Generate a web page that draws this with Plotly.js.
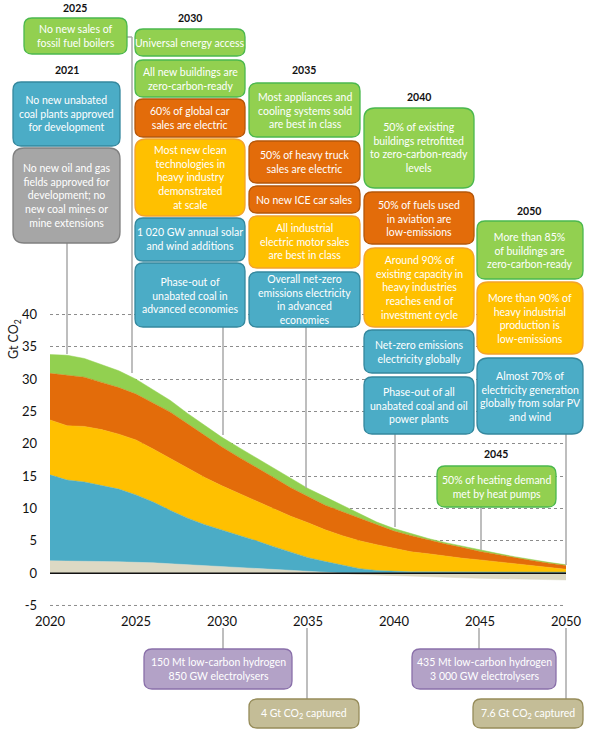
<!DOCTYPE html>
<html><head><meta charset="utf-8">
<script src="https://cdn.plot.ly/plotly-3.0.1.min.js"></script>
<style>html,body{margin:0;padding:0;background:#fff}#chart{width:589px;height:733px}</style>
</head><body><div id="chart"></div>
<script>
// ---- data (Gt CO2) ----
const years = [2020,2021,2022,2023,2024,2025,2026,2027,2028,2029,2030,2031,2032,2033,2034,2035,2036,2037,2038,2039,2040,2041,2042,2043,2044,2045,2046,2047,2048,2049,2050];
const other = [1.9,1.9,1.85,1.8,1.75,1.7,1.6,1.45,1.3,1.15,1.0,0.85,0.7,0.5,0.35,0.2,0.05,-0.1,-0.2,-0.3,-0.4,-0.5,-0.6,-0.67,-0.75,-0.8,-0.85,-0.9,-0.95,-1.0,-1.05];
const electricity = [13.3,12.5,12.25,11.8,11.25,10.4,9.4,8.25,7.2,6.35,5.7,5.05,4.3,3.6,2.85,2.2,1.75,1.2,0.7,0.4,0.25,0.2,0.2,0.2,0.2,0.2,0.2,0.2,0.2,0.2,0.15];
const industry = [8.5,8.4,8.6,8.6,8.5,8.5,8.2,8.0,7.7,7.3,6.8,6.4,6.1,5.8,5.6,5.4,4.9,4.6,4.3,4.0,3.55,3.1,2.8,2.4,2.1,1.85,1.55,1.25,1.0,0.7,0.45];
const transport = [7.2,7.8,7.6,7.3,7.2,7.1,7.1,7.2,6.9,6.5,6.0,5.6,5.3,4.9,4.4,4.0,3.8,3.7,3.5,3.0,2.7,2.5,2.1,1.9,1.65,1.3,1.15,0.95,0.75,0.65,0.6];
const buildings = [2.9,3.1,2.9,2.8,2.6,2.3,2.1,1.8,1.6,1.5,1.5,1.5,1.4,1.4,1.4,1.3,1.3,1.0,0.7,0.5,0.4,0.3,0.25,0.22,0.2,0.18,0.16,0.15,0.14,0.12,0.1];

const yTickVals = [-5,0,5,10,15,20,25,30,35,40];
const yTickText = ['-5','0','5','10','15','20','25','30','35','40'];
const xTickVals = [2020,2025,2030,2035,2040,2045,2050];
const xTickText = ['2020','2025','2030','2035','2040','2045','2050'];

// ---- colours ----
const C = {
  green:['#92d050','#4bb84e'], orange:['#e36c0a','#b5570a'], yellow:['#ffc000','#f3a32a'],
  blue:['#4bacc6','#35889e'], grey:['#a6a6a6','#808080'], purple:['#b3a2c7','#8a70aa'], khaki:['#c4bd97','#968c5a']
};
const areaCol = {other:'#ddd9c4', electricity:'#4bacc6', industry:'#ffc000', transport:'#e36c0a', buildings:'#92d050'};

// ---- milestones (text boxes, pixel layout) ----
const boxes = [
  [[24,18,127,54],'green','No new sales of<br>fossil fuel boilers'],
  [[13,82,120,146],'blue','No new unabated<br>coal plants approved<br>for development'],
  [[13,148,120,243],'grey','No new oil and gas<br>fields approved for<br>development; no<br>new coal mines or<br>mine extensions'],
  [[135,29,245,56],'green','Universal energy access'],
  [[135,60,245,97],'green','All new buildings are<br>zero-carbon-ready'],
  [[135,99,245,137],'orange','60% of global car<br>sales are electric'],
  [[135,139,245,216],'yellow','Most new clean<br>technologies in<br>heavy industry<br>demonstrated<br>at scale'],
  [[135,218,245,261],'blue','1 020 GW annual solar<br>and wind additions'],
  [[135,263,245,327],'blue','Phase-out of<br>unabated coal in<br>advanced economies'],
  [[249,83,360,137],'green','Most appliances and<br>cooling systems sold<br>are best in class'],
  [[249,141,360,183],'orange','50% of heavy truck<br>sales are electric'],
  [[249,186,360,213],'orange','No new ICE car sales'],
  [[249,216,360,268],'yellow','All industrial<br>electric motor sales<br>are best in class'],
  [[249,272,360,327],'blue','Overall net-zero<br>emissions electricity<br>in advanced<br>economies'],
  [[364,108,474,188],'green','50% of existing<br>buildings retrofitted<br>to zero-carbon-ready<br>levels'],
  [[364,192,474,244],'orange','50% of fuels used<br>in aviation are<br>low-emissions'],
  [[364,248,474,327],'yellow','Around 90% of<br>existing capacity in<br>heavy industries<br>reaches end of<br>investment cycle'],
  [[364,330,474,373],'blue','Net-zero emissions<br>electricity globally'],
  [[364,377,474,434],'blue','Phase-out of all<br>unabated coal and oil<br>power plants'],
  [[477,221,583,279],'green','More than 85%<br>of buildings are<br>zero-carbon-ready'],
  [[477,282,583,354],'yellow','More than 90% of<br>heavy industrial<br>production is<br>low-emissions'],
  [[477,358,583,434],'blue','Almost 70% of<br>electricity generation<br>globally from solar PV<br>and wind'],
  [[437,466,556,507],'green','50% of heating demand<br>met by heat pumps'],
  [[144,649,292,689],'purple','150 Mt low-carbon hydrogen<br>850 GW electrolysers'],
  [[249,699,359,728],'khaki','4 Gt CO<sub>2</sub> captured'],
  [[412,649,556,689],'purple','435 Mt low-carbon hydrogen<br>3 000 GW electrolysers'],
  [[473,699,583,728],'khaki','7.6 Gt CO<sub>2</sub> captured']
];
const yearLabels = [['2025',75,8],['2030',190,18],['2021',67,70],['2035',304,70],['2040',419,97],['2050',529,211],['2045',496,454]];
const connectors = [
  [[67,243],[67,354]],
  [[127,37],[132,37],[132,373]],
  [[223,327],[223,435]],
  [[306,327],[306,488]],
  [[395,434],[395,527]],
  [[481,507],[481,550]],
  [[566,434],[566,565]],
  [[223,628],[223,649]],
  [[307,628],[307,699]],
  [[479,628],[479,649]],
  [[566,628],[566,699]]
];

// ---- stacking ----
const base = other.map(v => Math.max(v,0));
const neg = other.map(v => Math.min(v,0));
const c1 = base.map((v,i) => v + electricity[i]);
const c2 = c1.map((v,i) => v + industry[i]);
const c3 = c2.map((v,i) => v + transport[i]);
const c4 = c3.map((v,i) => v + buildings[i]);

function area(y, col, fill){
  return {x: years, y: y, type:'scatter', mode:'lines', fill: fill, fillcolor: col,
          line:{width:0.5, color: col}, hoverinfo:'skip', showlegend:false};
}
const traces = [
  area(base, areaCol.other, 'tozeroy'),
  area(c1, areaCol.electricity, 'tonexty'),
  area(c2, areaCol.industry, 'tonexty'),
  area(c3, areaCol.transport, 'tonexty'),
  area(c4, areaCol.buildings, 'tonexty'),
  area(neg, areaCol.other, 'tozeroy')
];

// ---- pixel -> paper helpers ----
const WID=589, HEI=733, ML=50, MR=23, MT=314, MB=127;
const PW = WID-ML-MR, PH = HEI-MT-MB;
const px = x => (x-ML)/PW;
const py = y => (MT+PH-y)/PH;
const FONT = 'Lato, "Open Sans", sans-serif';

function roundRect(b, r){
  const rx=r/PW, ry=r/PH;
  const X0=px(b[0]), X1=px(b[2]), Yt=py(b[1]), Yb=py(b[3]);
  return `M ${X0+rx},${Yt} L ${X1-rx},${Yt} Q ${X1},${Yt} ${X1},${Yt-ry} L ${X1},${Yb+ry} Q ${X1},${Yb} ${X1-rx},${Yb} L ${X0+rx},${Yb} Q ${X0},${Yb} ${X0},${Yb+ry} L ${X0},${Yt-ry} Q ${X0},${Yt} ${X0+rx},${Yt} Z`;
}

const shapes = [];
const annotations = [];

// edge gridlines (top and bottom of the value range)
[yTickVals[0], yTickVals[yTickVals.length-1]].forEach(v => {
  shapes.push({type:'line', xref:'paper', yref:'y', x0:0, x1:1, y0:v, y1:v,
    line:{color:'#8c8c8c', width:1, dash:'dot'}, layer:'below'});
});

connectors.forEach(pts => {
  for(let i=0;i<pts.length-1;i++){
    shapes.push({type:'line', xref:'paper', yref:'paper', x0:px(pts[i][0]), y0:py(pts[i][1]), x1:px(pts[i+1][0]), y1:py(pts[i+1][1]),
      line:{color:'#a9a9a9', width:1.5}, layer:'above'});
  }
});
// zero line
shapes.push({type:'line', xref:'paper', yref:'y', x0:0, x1:1, y0:0, y1:0, line:{color:'#111', width:1.5}, layer:'above'});

boxes.forEach(([b, c, t]) => {
  const h = b[3]-b[1];
  const r = h > 70 ? 11 : 8;
  shapes.push({type:'path', xref:'paper', yref:'paper', path: roundRect(b, r), fillcolor: C[c][0],
    line:{color: C[c][1], width:1.3}, layer:'above'});
  annotations.push({xref:'paper', yref:'paper', x: px((b[0]+b[2])/2), y: py((b[1]+b[3])/2),
    xanchor:'center', yanchor:'middle', showarrow:false, align:'center', text: t,
    font:{family: FONT, size:10.5, color:'#ffffff'}});
});
yearLabels.forEach(([t,x,y]) => {
  annotations.push({xref:'paper', yref:'paper', x:px(x), y:py(y), xanchor:'center', yanchor:'middle', showarrow:false,
    text:'<b>'+t+'</b>', font:{family: FONT, size:10.5, color:'#111'}});
});
annotations.push({xref:'paper', yref:'paper', x:px(14), y:py(339), xanchor:'center', yanchor:'middle', showarrow:false,
  textangle:-90, text:'Gt CO<sub>2</sub>', font:{family: FONT, size:12.5, color:'#222'}});

const layout = {
  width: WID, height: HEI,
  margin:{l:ML, r:MR, t:MT, b:MB, pad:0},
  paper_bgcolor:'#fff', plot_bgcolor:'#fff',
  showlegend:false,
  font:{family: FONT, color:'#222'},
  xaxis:{range:[2020,2050], tickvals:xTickVals, ticktext:xTickText, showgrid:false, zeroline:false, showline:false,
         ticks:'', ticklabelstandoff:6, tickfont:{family: FONT, size:13, color:'#111'}, fixedrange:true},
  yaxis:{range:[-5.08,40.08], tickvals:yTickVals, ticktext:yTickText, showgrid:true, gridcolor:'#8c8c8c', gridwidth:1,
         griddash:'dot', zeroline:false, showline:false, ticks:'', ticklabelstandoff:12,
         tickfont:{family: FONT, size:13, color:'#111'}, fixedrange:true},
  shapes: shapes,
  annotations: annotations
};

Plotly.newPlot('chart', traces, layout, {displayModeBar:false, staticPlot:true});
</script>
</body></html>
